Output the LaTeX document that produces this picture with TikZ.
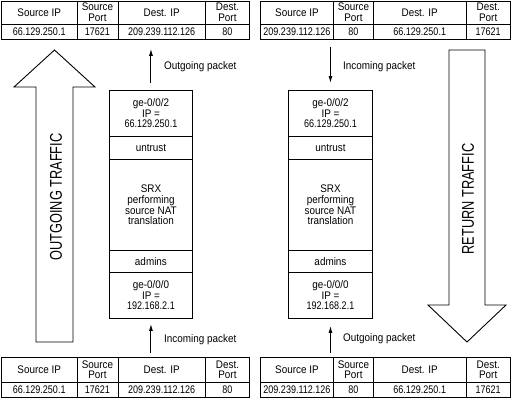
\documentclass[tikz,border=0pt]{standalone}
\usepackage{fontspec}
\setmainfont{Liberation Sans}[FakeStretch=0.9]
\newfontfamily\bigfont{Liberation Sans}[FakeStretch=0.75]
\newfontfamily\numfont{Liberation Sans}[FakeStretch=0.82]
\usetikzlibrary{arrows.meta}
\tikzset{
  cell/.style={draw=black, line width=0.9pt, inner sep=0pt, align=center,
    font=\fontsize{11}{10.6}\selectfont},
  valcell/.style={cell, font=\numfont\fontsize{11}{10.6}\selectfont},
  bigarrow/.style={draw=black, line width=0.9pt, fill=white, line join=miter},
  biglabel/.style={font=\bigfont\fontsize{17}{17}\selectfont, rotate=90, inner sep=0pt},
  pktlabel/.style={font=\fontsize{11}{11}\selectfont, anchor=west, inner sep=0pt},
  flow/.style={draw=black, line width=1pt, -{Latex[length=7pt,width=4pt]}}
}
% one table column: name, x, ytop, width, header height, header, value
\newcommand\pcol[7]{%
  \node[cell, minimum width=#4pt, minimum height=#5pt, anchor=north west] (#1h) at (#2,#3) {#6};
  \node[valcell, minimum width=#4pt, minimum height=14.5pt, anchor=north west] (#1v) at (#1h.south west) {#7};
}
% one box cell: name, x, ytop, width, height, text
\newcommand\bcell[6]{%
  \node[cell, minimum width=#4pt, minimum height=#5pt, anchor=north west] (#1) at (#2,#3) {#6};
}
\begin{document}
\begin{tikzpicture}[x=1pt,y=-1pt]
\useasboundingbox (0,0) rectangle (513,400);

% ---------- top-left table ----------
\pcol{tla}{1}{0.5}{75.5}{23}{Source IP}{66.129.250.1}
\pcol{tlb}{76.5}{0.5}{41}{23}{Source\\Port}{17621}
\pcol{tlc}{117.5}{0.5}{87.5}{23}{Dest. IP}{209.239.112.126}
\pcol{tld}{205}{0.5}{44}{23}{Dest.\\Port}{80}

% ---------- top-right table ----------
\pcol{tra}{260}{0.5}{73}{23}{Source IP}{209.239.112.126}
\pcol{trb}{333}{0.5}{40}{23}{Source\\Port}{80}
\pcol{trc}{373}{0.5}{92.5}{23}{Dest. IP}{66.129.250.1}
\pcol{trd}{465.5}{0.5}{44.5}{23}{Dest.\\Port}{17621}

% ---------- bottom-left table ----------
\pcol{bla}{1}{357}{75.5}{24.5}{Source IP}{66.129.250.1}
\pcol{blb}{76.5}{357}{41}{24.5}{Source\\Port}{17621}
\pcol{blc}{117.5}{357}{87.5}{24.5}{Dest. IP}{209.239.112.126}
\pcol{bld}{205}{357}{44}{24.5}{Dest.\\Port}{80}

% ---------- bottom-right table ----------
\pcol{bra}{260}{357}{73}{24.5}{Source IP}{209.239.112.126}
\pcol{brb}{333}{357}{40}{24.5}{Source\\Port}{80}
\pcol{brc}{373}{357}{92.5}{24.5}{Dest. IP}{66.129.250.1}
\pcol{brd}{465.5}{357}{44.5}{24.5}{Dest.\\Port}{17621}

% ---------- left SRX box ----------
\bcell{lb1}{109}{90}{83}{46}{ge-0/0/2\\IP =\\{\numfont 66.129.250.1}}
\bcell{lb2}{109}{136}{83}{23}{untrust}
\bcell{lb3}{109}{159}{83}{91}{SRX\\performing\\source NAT\\translation}
\bcell{lb4}{109}{250}{83}{22}{admins}
\bcell{lb5}{109}{272}{83}{46}{ge-0/0/0\\IP =\\{\numfont 192.168.2.1}}

% ---------- right SRX box ----------
\bcell{rb1}{288}{90}{84}{46}{ge-0/0/2\\IP =\\{\numfont 66.129.250.1}}
\bcell{rb2}{288}{136}{84}{23}{untrust}
\bcell{rb3}{288}{159}{84}{91}{SRX\\performing\\source NAT\\translation}
\bcell{rb4}{288}{250}{84}{22}{admins}
\bcell{rb5}{288}{272}{84}{46}{ge-0/0/0\\IP =\\{\numfont 192.168.2.1}}

% ---------- big arrows ----------
\draw[bigarrow] (36,342) -- (36,87) -- (14,87) -- (54.5,50) -- (95,87) -- (73,87) -- (73,342) -- cycle;
\node[biglabel] (outtraffic) at (56,197) {OUTGOING TRAFFIC};

\draw[bigarrow] (449,50) -- (449,305) -- (428,305) -- (467,342) -- (506,305) -- (485,305) -- (485,50) -- cycle;
\node[biglabel] (rettraffic) at (468,199) {RETURN TRAFFIC};

% ---------- packet flow arrows ----------
\draw[flow, shorten <=7pt, shorten >=9pt] (lb1.north) -- (tlcv.south -| lb1.north);
\node[pktlabel] (lo) at (164,67) {Outgoing packet};

\draw[flow, shorten <=7pt, shorten >=7pt] (trbv.south -| rb1.north) -- (rb1.north);
\node[pktlabel] (ri) at (343,67) {Incoming packet};

\draw[flow, shorten <=4pt, shorten >=5pt] (blch.north -| lb5.south) -- (lb5.south);
\node[pktlabel] (li) at (164,340) {Incoming packet};

\draw[flow, shorten <=4pt, shorten >=7pt] (brbh.north -| rb5.south) -- (rb5.south);
\node[pktlabel] (ro) at (343,339) {Outgoing packet};
\end{tikzpicture}
\end{document}
